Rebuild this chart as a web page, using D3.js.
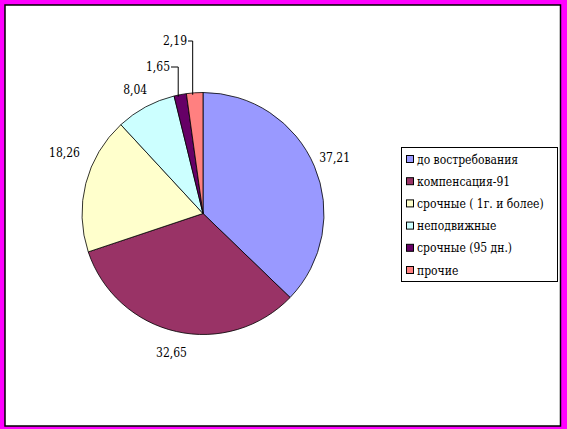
<!DOCTYPE html>
<html><head><meta charset="utf-8">
<script src="https://cdn.jsdelivr.net/npm/d3@7"></script>
<style>body{margin:0;background:#fff}svg{display:block}</style>
</head><body><svg id="c" width="567" height="429"></svg>
<script>
const categories = ["до востребования","компенсация-91","срочные ( 1г. и более)","неподвижные","срочные (95 дн.)","прочие"];
const values = [37.21,32.65,18.26,8.04,1.65,2.19];
const labels = ["37,21","32,65","18,26","8,04","1,65","2,19"];
const colors = ["#9999FF","#993366","#FFFFCC","#CCFFFF","#660066","#FF8080"];

const svg = d3.select("#c");
svg.append("rect").attr("x",0).attr("y",0).attr("width",567).attr("height",429).attr("fill","#FF00FF");
svg.append("rect").attr("x",5).attr("y",5).attr("width",555.5).attr("height",421).attr("fill","#fff").attr("stroke","#000").attr("stroke-width",1.5);

const cx=203, cy=213.5, r=121;
const data = categories.map((c,i)=>({c, v:values[i], l:labels[i], col:colors[i]}));
const pie = d3.pie().value(d=>d.v).sort(null);
const arcs = pie(data);
const arc = d3.arc().innerRadius(0).outerRadius(r);
const g = svg.append("g").attr("transform",`translate(${cx},${cy})`);
g.selectAll("path").data(arcs).join("path").attr("d",arc).attr("fill",d=>d.data.col).attr("stroke","#000").attr("stroke-width",0.8);

function txt(sel){ return sel.style("font-family","'DejaVu Serif Condensed', 'DejaVu Serif', serif").style("font-stretch","condensed").style("font-size","12px").attr("fill","#000"); }

// labels for large slices
const labelArc = d3.arc().innerRadius(143).outerRadius(143);
const nudgeY = [0,0,-25,2];
arcs.slice(0,4).forEach((a,i)=>{
  const [x,y]=labelArc.centroid(a);
  txt(g.append("text")).attr("x",x).attr("y",y+4+nudgeY[i]).attr("text-anchor","middle").text(a.data.l);
});
// leader-labelled small slices
const lead = [{i:4, ty:67, tx:-32},{i:5, ty:41, tx:-15}];
lead.forEach(o=>{
  const a = arcs[o.i];
  const ang = (a.startAngle+a.endAngle)/2;
  const ex = Math.sin(ang)*r - 2, ey = -Math.cos(ang)*(r-2);
  g.append("path").attr("d",`M${ex},${ey}L${ex},${o.ty-cy}L${o.tx},${o.ty-cy}`).attr("fill","none").attr("stroke","#000").attr("stroke-width",1);
  txt(g.append("text")).attr("x",o.tx-1).attr("y",o.ty-cy+4).attr("text-anchor","end").text(a.data.l);
});

// legend
const lg = svg.append("g");
lg.append("rect").attr("x",401.5).attr("y",147.5).attr("width",156).attr("height",134).attr("fill","#fff").attr("stroke","#000").attr("stroke-width",1);
data.forEach((d,i)=>{
  const y = 159 + i*22.2;
  lg.append("rect").attr("x",406.5).attr("y",y-3.5).attr("width",7).attr("height",7).attr("fill",d.col).attr("stroke","#000").attr("stroke-width",1);
  txt(lg.append("text")).attr("x",417).attr("y",y+4.5).text(d.c);
});
</script></body></html>
